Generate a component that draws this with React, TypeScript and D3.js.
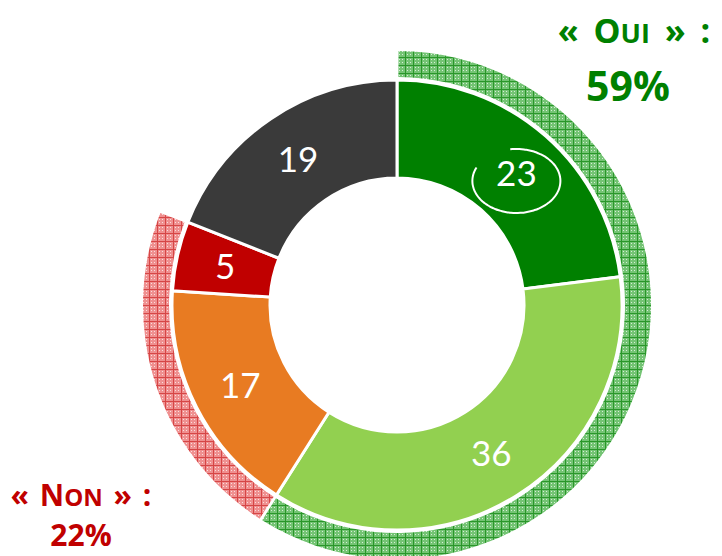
import React from "react";
import * as d3 from "d3";

const values = [23, 36, 17, 5, 19];
const colors = ["#008000", "#92d050", "#e87b22", "#c00000", "#3a3a3a"];
const ouiIdx = [0, 1];
const nonIdx = [2, 3];
const highlightIdx = 0;

const W = 722, H = 556;
const cx = 397, cy = 305;
const rOuter = 225, rInner = 127;
const hIn = 228, hOut = 254;
const font = "Lato, 'Open Sans', sans-serif";
const titleFont = "'Open Sans', Lato, sans-serif";

function Pattern({ id, bg, line }: { id: string; bg: string; line: string }) {
  const pts = [[2, 2], [2, 5], [5, 2], [5, 5]];
  return (
    <pattern id={id} width={8} height={8} patternUnits="userSpaceOnUse">
      <rect width={8} height={8} fill={bg} />
      {pts.map(([x, y], k) => (
        <rect key={k} x={x} y={y} width={1} height={1} fill="#fff" opacity={0.7} />
      ))}
      <rect x={0} y={0} width={8} height={1} fill={line} />
      <rect x={0} y={0} width={1} height={8} fill={line} />
    </pattern>
  );
}

export default function App() {
  const pie = d3.pie<number>().sort(null).value((d) => d)(values);
  const arc = d3.arc<d3.PieArcDatum<number>>().innerRadius(rInner).outerRadius(rOuter);
  const hatch = d3.arc<any>().innerRadius(hIn).outerRadius(hOut);
  const gap = 0.006;
  const group = (idx: number[]) => ({
    startAngle: pie[idx[0]].startAngle + gap,
    endAngle: pie[idx[idx.length - 1]].endAngle - gap,
  });
  const oui = group(ouiIdx);
  const non = group(nonIdx);
  const hc = arc.centroid(pie[highlightIdx]);
  const ex = hc[0] + 3, ey = hc[1] + 8, erx = 44, ery = 32;
  const thetas = d3.range(205, -101, -3).map((t) => (t * Math.PI) / 180);
  const ellipsePath =
    d3.line<number>()
      .x((t) => ex + erx * Math.cos(t))
      .y((t) => ey + ery * Math.sin(t))
      .curve(d3.curveCatmullRom)(thetas) || "";

  return (
    <svg width={W} height={H} style={{ position: "absolute", left: 0, top: 0 }}>
      <defs>
        <Pattern id="hg" bg="#74c474" line="#2a962a" />
        <Pattern id="hr" bg="#ef9090" line="#d64646" />
      </defs>
      <g transform={`translate(${cx},${cy})`}>
        <path d={hatch(oui) || ""} fill="url(#hg)" />
        <path d={hatch(non) || ""} fill="url(#hr)" />
        {pie.map((p, i) => (
          <path key={i} d={arc(p) || ""} fill={colors[i]} stroke="#fff" strokeWidth={3} />
        ))}
        {pie.map((p, i) => {
          const [x, y] = arc.centroid(p);
          return (
            <text key={i} x={x + (i === highlightIdx ? 3 : 0)} y={y} dy="0.36em" textAnchor="middle" fill="#fff" fontFamily={font} fontSize={35}>
              {values[i]}
            </text>
          );
        })}
        <path d={ellipsePath} fill="none" stroke="#fff" strokeWidth={2} />
      </g>
      <g fontFamily={titleFont} fontWeight="bold" fill="#008000" textAnchor="middle">
        <text x={634} y={43} fontSize={34} wordSpacing={6}>
          « O<tspan fontSize={27}>UI</tspan> » :
        </text>
        <text x={628} y={101} fontSize={41}>59%</text>
      </g>
      <g fontFamily={titleFont} fontWeight="bold" fill="#c00000" textAnchor="middle">
        <text x={81} y={506} fontSize={30} wordSpacing={3}>
          « N<tspan fontSize={24}>ON</tspan> » :
        </text>
        <text x={81} y={546} fontSize={30}>22%</text>
      </g>
    </svg>
  );
}
